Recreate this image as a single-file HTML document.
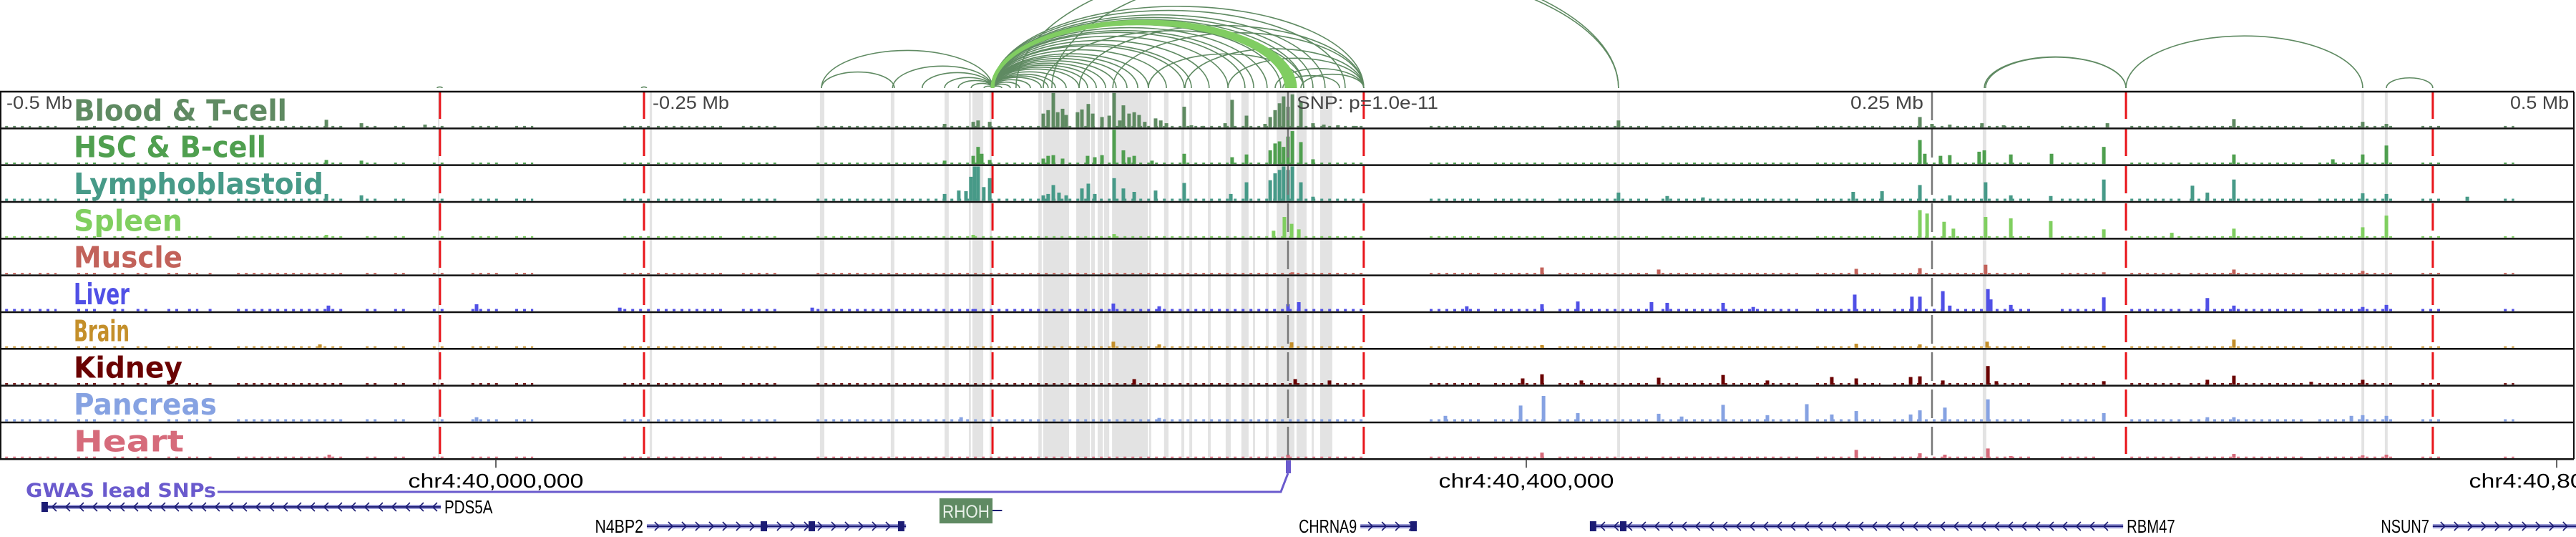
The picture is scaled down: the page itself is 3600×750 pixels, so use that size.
<!DOCTYPE html>
<html><head><meta charset="utf-8">
<style>
html,body{margin:0;padding:0;background:#fff;width:3600px;height:750px;overflow:hidden}
svg{display:block}
</style></head>
<body>
<svg id="chart" width="3600" height="750" viewBox="0 0 3600 750" xmlns="http://www.w3.org/2000/svg">
<defs><clipPath id="arcclip"><rect x="0" y="0" width="3600" height="126"/></clipPath></defs>
<g id="bands"></g>
<g id="bars"></g>
<g id="vlines"></g>
<g id="frame"></g>
<g id="labels"></g>
<g id="arcs" clip-path="url(#arcclip)"></g>
<g id="axis"></g>
<g id="genes"></g>
</svg>
<script>
// ---- data (positions in kb from window start; 1000 kb window) ----
const trackNames = ['Blood & T-cell','HSC & B-cell','Lymphoblastoid','Spleen','Muscle','Liver','Brain','Kidney','Pancreas','Heart'];
const trackColors = ['#5f8a62','#4f9f4f','#479a88','#80cf60','#c2625a','#5050e6','#c48f2a','#6a0202','#86a2e2','#d66b7b'];
const labelLens = [298,269,349,152,152,78,78,152,200,154];
const bgLevels = [2,2,3,2,2,3,2,2,3,2];
const bgRanges = [[2,12],[15,22],[30,38],[44,50],[53,58],[65,70],[73,77],[81,84],[92,134],[142,148],[153,159],[168,173],[183,195],[200,207],[242,253],[255,268],[270,282],[288,302],[317,530],[555,575],[580,600],[605,640],[645,700],[705,730],[735,790],[800,815],[827,847],[850,895],[900,930],[940,948],[972,976]];
const bloodPeaks = [[126.7,11],[140.3,6],[165,4],[366.7,5],[377.8,8],[379.7,10],[384.2,8],[405,20],[406.9,25],[408.9,50],[410.6,22],[412.5,27],[413.9,18],[418.3,22],[420,26],[422.5,34],[424.2,20],[427.8,15],[430.6,17],[432.5,50],[434.7,10],[436.1,32],[438.3,20],[440.3,22],[442.2,18],[444.4,8],[448.6,13],[450.6,10],[452.8,6],[459.7,30],[462.5,3],[466.7,2],[475.6,6],[478.3,40],[483.9,17],[491.1,5],[493.1,15],[495,25],[496.7,35],[498.3,45],[500,30],[501.7,48],[505,38],[509.7,6],[513.9,4],[519.4,3],[526.4,2],[628.3,10],[745.3,15],[750,5],[756.9,4],[769.4,6],[777.8,3],[818.1,6],[867.2,12],[917.2,8],[926.4,5]];
const hscPeaks = [[126.7,6],[140.3,5],[366.7,5],[377.8,12],[379.7,25],[381.1,15],[384.2,6],[405,8],[406.9,12],[408.9,13],[412.5,8],[422.2,12],[425,10],[427.8,13],[432.5,50],[436.1,20],[438.3,10],[440.3,12],[447.2,5],[459.7,15],[478.3,10],[483.9,14],[493.1,20],[495,30],[496.7,33],[498.3,25],[500,40],[501.7,48],[505,32],[509.7,7],[745.3,35],[747.2,15],[753.3,12],[756.9,13],[768.3,18],[770.3,20],[780.6,14],[796.4,15],[816.7,25],[867.2,14],[905.6,7],[917.2,14],[926.4,27]];
const lymphoPeaks = [[126.7,10],[140.3,8],[366.7,10],[372.2,15],[375,14],[376.9,35],[378.3,50],[379.7,50],[381.9,20],[384.2,33],[405,8],[406.9,10],[408.9,23],[411.1,12],[413.9,8],[420,18],[422.5,25],[425,10],[432.5,33],[436.1,18],[440.3,13],[448.6,15],[459.7,26],[477.8,10],[483.9,27],[493.1,30],[495,40],[496.7,45],[498.3,50],[500,45],[501.7,50],[505,27],[509.7,6],[628.3,12],[647.2,7],[661.1,5],[719.4,13],[730.6,14],[745.3,23],[756.9,8],[770.8,27],[780.6,8],[796.1,7],[816.7,31],[851.1,22],[856.9,12],[867.2,31],[917.2,11],[926.4,10],[957.8,6]];
const spleenPeaks = [[126.7,4],[377.8,4],[432.5,5],[494.4,10],[498.6,30],[501.4,20],[504.2,12],[745.3,40],[748.1,35],[754.7,23],[758.3,13],[770.8,30],[780.6,28],[796.1,24],[816.7,12],[843.1,7],[867.2,13],[917.2,15],[926.4,32]];
const musclePeaks = [[501.7,3],[598.6,10],[643.9,7],[720.6,8],[745.3,9],[770.8,14],[816.7,3],[867.2,7],[917.2,5]];
const liverPeaks = [[127.5,8],[185,10],[240.6,5],[315.3,5],[377.8,3],[432.2,11],[450,7],[500,10],[504.2,13],[569.4,7],[598.6,10],[612.5,14],[641.1,13],[647.2,12],[668.9,12],[680.6,6],[720,24],[742.2,21],[745.3,21],[754.2,29],[756.9,8],[771.7,32],[772.8,17],[780.6,9],[816.7,20],[856.9,19],[867.2,8],[917.2,6],[926.4,9]];
const brainPeaks = [[124.2,5],[432.2,9],[450,5],[501.4,8],[598.6,4],[720.6,6],[745.3,5],[771.4,9],[816.7,3],[867.2,12]];
const kidneyPeaks = [[440.3,8],[502.8,8],[516.1,6],[591.1,9],[598.6,15],[613.9,6],[643.9,10],[668.9,14],[686.1,6],[711.1,11],[720.6,9],[741.7,11],[745.3,12],[754.2,6],[771.7,27],[775,5],[816.7,5],[856.9,7],[867.2,13],[897.2,4],[917.2,7]];
const pancreasPeaks = [[185,6],[373.1,6],[450,5],[561.1,8],[590.3,23],[599.2,37],[612.5,12],[643.9,11],[652.8,7],[668.9,24],[686.1,9],[701.4,25],[711.1,10],[720.6,15],[741.7,10],[745.3,16],[755,20],[771.7,32],[816.7,12],[856.9,6],[867.2,6],[912.8,8],[917.2,9],[926.4,8]];
const heartPeaks = [[127.8,5],[500,5],[598.6,8],[720.6,12],[745.3,7],[755,5],[771.7,14],[780.6,3],[867.2,6],[917.2,4],[926.4,5]];
const trackPeaks = [bloodPeaks,hscPeaks,lymphoPeaks,spleenPeaks,musclePeaks,liverPeaks,brainPeaks,kidneyPeaks,pancreasPeaks,heartPeaks];
const grayBands = [[170,170.6],[252.2,253.1],[318.3,320],[345.8,347.2],[366.7,368.3],[376.1,376.9],[377.5,381.7],[384.2,385],[403.1,404.4],[405,415],[417.8,423.1],[423.6,425],[426.1,428.1],[428.6,430.6],[431.7,445.6],[446.1,446.9],[451.9,453.6],[458.6,459.7],[461.7,462.8],[468.9,470],[475.8,477.8],[481.9,484.7],[486.4,487.2],[491.4,492.5],[495.6,502.5],[503.3,507.2],[509.2,510],[512.5,517.2],[627.8,628.9],[769.7,771.1],[916.7,917.8],[925.8,926.9]];
const tadBoundaries = [170.8,250,385.3,529.4,825.3,944.4];
const arcStarts = [385.3,385.3,385.3,385.3,385.3,385.3,385.3,385.3,385.3,385.3,385.3,385.3,385.3,385.3,385.3,385.3,385.3,385.3,385.3,385.3,385.3,385.3,385.3,385.3,385.3,385.3,385.3,385.3,385.3,385.3, 318.9,318.9,346.5,358,366.7,372,377,382, 405,418.9,432,445.8,460,476.7,495,505,498, 394.4,408.3, 770.3,770.8,825.3,926.4,169.7,249, 385.3,385.3,385.3,385.3];
const arcEnds   = [388.9,392.2,395.8,400,404.2,406.9,409.7,413.9,418.9,422.2,425.6,429.2,433.3,437.5,441.7,445.8,452.8,459.7,462.5,469.4,476.7,483.3,486.7,491.9,497.2,506.1,509.7,514.4,522.2,529.4, 385.3,347.2,385.3,385.3,385.3,385.3,385.3,385.3, 506.1,529.4,529.4,506.1,529.4,529.4,529.4,529.4,520, 628.3,628.3, 825.3,825.3,917.2,944.4,171.7,251, 499.4,500.6,501.7,502.8];
const arcStrong = [0,0,0,0,0,0,0,0,0,0,0,0,0,0,0,0,0,0,0,0,0,0,0,0,0,0,0,0,0,0, 0,0,0,0,0,0,0,0, 0,0,0,0,0,0,0,0,0, 0,0, 0,0,0,0,0,0, 1,1,1,1];
const axisTickLabels = ['-0.5 Mb','-0.25 Mb','SNP: p=1.0e-11','0.25 Mb','0.5 Mb'];
const chrTickPos = [192.5,592.5,992.5];
const chrTickLabels = ['chr4:40,000,000','chr4:40,400,000','chr4:40,800,000'];
const snpPos = 500;

// ---- scales ----
const NS='http://www.w3.org/2000/svg';
const xS = kb => kb*3.6;
const TOP=128, TH=51.33, MAXH=48, MAXV=50;
const yS = v => v/MAXV*MAXH;
function mk(tag, attrs, parent){const e=document.createElementNS(NS,tag);for(const k in attrs)e.setAttribute(k,attrs[k]);parent.appendChild(e);return e;}
const gB=document.getElementById('bands'),gBar=document.getElementById('bars'),gV=document.getElementById('vlines'),gF=document.getElementById('frame'),gL=document.getElementById('labels'),gA=document.getElementById('arcs'),gX=document.getElementById('axis'),gG=document.getElementById('genes');
const BOTTOM = TOP+TH*trackNames.length;

grayBands.forEach(b=>{
  const r=mk('rect',{x:xS(b[0]),y:TOP,width:Math.max(2,xS(b[1])-xS(b[0])),height:BOTTOM-TOP,fill:'#e3e3e3'},gB);
  
  
});

trackNames.forEach((n,i)=>{
  const base=TOP+TH*(i+1)-1.5;
  bgRanges.forEach(rg=>{
    const l=mk('line',{x1:xS(rg[0]),x2:xS(rg[1]),y1:base-bgLevels[i]/2,y2:base-bgLevels[i]/2,stroke:trackColors[i],'stroke-width':bgLevels[i],'stroke-dasharray':'4 7'},gBar);
    
    
  });
  trackPeaks[i].forEach(p=>{
    const h=yS(p[1]);
    const r=mk('rect',{x:xS(p[0])-2.5,y:base-h,width:5,height:h,fill:trackColors[i]},gBar);
    
    
  });
});

[[500,'#777'],[750,'#777']].forEach(v=>{
  const l=mk('line',{x1:xS(v[0]),x2:xS(v[0]),y1:TOP,y2:BOTTOM,stroke:v[1],'stroke-width':2.5,'stroke-dasharray':'40 12'},gV);
  
  
});
tadBoundaries.forEach(t=>{
  const l=mk('line',{x1:xS(t),x2:xS(t),y1:TOP,y2:BOTTOM,stroke:'#e8141a','stroke-width':3,'stroke-dasharray':'38 14'},gV);
  
  
});

for(let i=0;i<=trackNames.length;i++){
  const y=TOP+TH*i;
  const l=mk('line',{x1:0,x2:3597,y1:y,y2:y,stroke:'#111','stroke-width':2.5},gF);
  
  
}
mk('line',{x1:1,x2:1,y1:TOP,y2:BOTTOM,stroke:'#111','stroke-width':2},gF);
mk('line',{x1:3597,x2:3597,y1:TOP,y2:BOTTOM,stroke:'#111','stroke-width':2},gF);

trackNames.forEach((n,i)=>{
  const t=mk('text',{x:103,y:TOP+TH*(i+1)-11,'font-family':'DejaVu Sans, sans-serif','font-weight':'bold','font-size':41,fill:trackColors[i],textLength:labelLens[i],lengthAdjust:'spacingAndGlyphs'},gL);
  t.textContent=n;
  
  
});

const ABASE=123;
arcStarts.forEach((s,i)=>{
  const x1=xS(Math.min(s,arcEnds[i])),x2=xS(Math.max(s,arcEnds[i]));
  const rx=(x2-x1)/2, ry=rx*0.44;
  const strong=arcStrong[i]===1;
  const p=mk('path',{d:`M${x1},${ABASE} A${rx},${ry} 0 0 1 ${x2},${ABASE}`,fill:'none',stroke:strong?'#80cd62':'#5f8a62','stroke-width':strong?5:1.6},gA);
  
  
});

const axisX=[xS(0)+9,xS(250)+12,xS(500)+12,xS(750)-12,xS(1000)-10];
const axisAnchor=['start','start','start','end','end'];
const axisLen=[92,107,198,102,82];
axisTickLabels.forEach((s,i)=>{
  const t=mk('text',{x:axisX[i],y:152,'text-anchor':axisAnchor[i],'font-family':'Liberation Sans, sans-serif','font-size':25,fill:'#444',textLength:axisLen[i],lengthAdjust:'spacingAndGlyphs'},gX);
  t.textContent=s;
  
  
});
chrTickPos.forEach((p,i)=>{
  mk('line',{x1:xS(p),x2:xS(p),y1:BOTTOM,y2:BOTTOM+12,stroke:'#333','stroke-width':1.5},gX);
  const t=mk('text',{x:xS(p),y:681,'text-anchor':'middle','font-family':'Liberation Sans, sans-serif','font-size':28,fill:'#000',textLength:245,lengthAdjust:'spacingAndGlyphs'},gX);
  t.textContent=chrTickLabels[i];
  
  
});

const gw=mk('text',{x:36,y:694,'font-family':'DejaVu Sans, sans-serif','font-weight':'bold','font-size':27,fill:'#6a5acd',textLength:266,lengthAdjust:'spacingAndGlyphs'},gG);
gw.textContent='GWAS lead SNPs';


const gl=mk('polyline',{points:`304,687 ${xS(snpPos)-10},687 ${xS(snpPos)},661`,fill:'none',stroke:'#6a5acd','stroke-width':3},gG);


const gm=mk('rect',{x:xS(snpPos)-3,y:643,width:7,height:18,fill:'#6a5acd'},gG);



const geneNames=['PDS5A','N4BP2','CHRNA9','RBM47','NSUN7'];
const geneStarts=[17.2,251.1,528.1,618.3,944.4];
const geneEnds=[171.1,351.7,550,824.2,1000];
const geneStrand=[-1,1,1,-1,1];
const geneRow=[708,735,735,735,735];
const geneExons=[[17.2],[296.4,315,349.7],[548.6],[618.3,630],[]];
const geneLabelSide=['right','left','left','right','left'];
geneNames.forEach((g,i)=>{
  const x1=xS(geneStarts[i]),x2=xS(geneEnds[i]),y=geneRow[i];
  const grp=mk('g',{},gG);
  
  
  mk('line',{x1,x2,y1:y,y2:y,stroke:'#9b9bd6','stroke-width':6},grp);
  mk('line',{x1,x2,y1:y,y2:y,stroke:'#1c1c74','stroke-width':2},grp);
  for(let cx=x1+14;cx<x2-6;cx+=19){
    const d=geneStrand[i]>0?`M${cx-3},${y-6} L${cx+3},${y} L${cx-3},${y+6}`:`M${cx+3},${y-6} L${cx-3},${y} L${cx+3},${y+6}`;
    mk('path',{d,fill:'none',stroke:'#1c1c74','stroke-width':1.6},grp);
  }
  geneExons[i].forEach(e=>mk('rect',{x:xS(e)-4,y:y-7,width:9,height:14,fill:'#1c1c74'},grp));
  const right=geneLabelSide[i]==='right';
  const t=mk('text',{x:right?x2+5:x1-5,y:y+9,'text-anchor':right?'start':'end','font-family':'Liberation Sans, sans-serif','font-size':26,fill:'#000',textLength:g.length*13.5,lengthAdjust:'spacingAndGlyphs'},grp);
  t.textContent=g;
});
const rh=mk('g',{},gG);


mk('line',{x1:xS(385.3),x2:xS(389),y1:713,y2:713,stroke:'#1c1c74','stroke-width':2},rh);
mk('rect',{x:xS(364.7),y:696,width:xS(385.3)-xS(364.7),height:35,fill:'#5f8a62'},rh);
const rt=mk('text',{x:(xS(364.7)+xS(385.3))/2,y:723,'text-anchor':'middle','font-family':'Liberation Sans, sans-serif','font-size':25,fill:'#e8f0e8',textLength:66,lengthAdjust:'spacingAndGlyphs'},rh);
rt.textContent='RHOH';
</script>
</body></html>
